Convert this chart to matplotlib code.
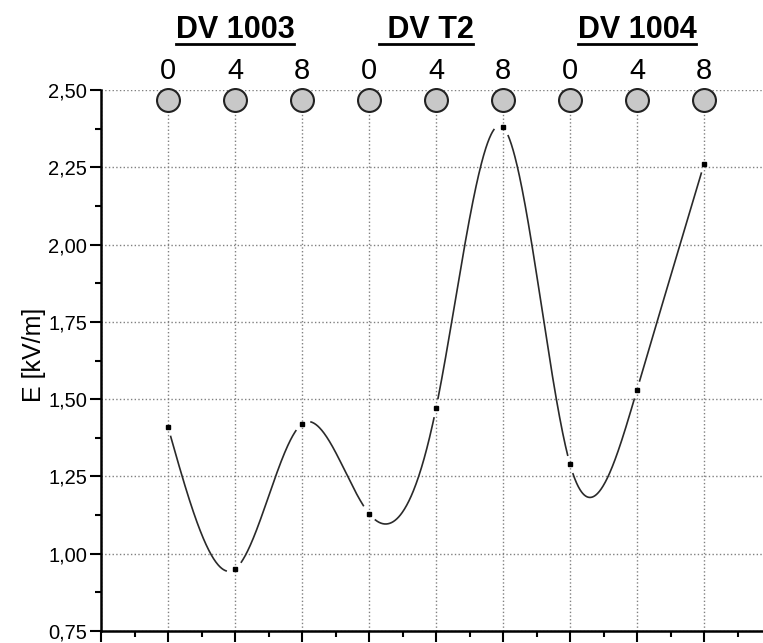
import matplotlib
matplotlib.use("Agg")
import matplotlib.pyplot as plt
import numpy as np
from matplotlib.ticker import MultipleLocator, FuncFormatter
from matplotlib.lines import Line2D

plt.rcParams['font.family'] = ['Liberation Sans', 'DejaVu Sans']

# data
positions = np.arange(1, 10)
hours = ['0', '4', '8', '0', '4', '8', '0', '4', '8']
groups = ['DV 1003', ' DV T2', 'DV 1004']
group_centers = [2, 4.85, 8]
field = np.array([1.41, 0.95, 1.42, 1.13, 1.47, 2.38, 1.29, 1.53, 2.26])


def natural_spline(x, y, xs):
    # plain natural cubic spline, no scipy needed
    n = len(x)
    h = np.diff(x)
    A = np.zeros((n, n))
    b = np.zeros(n)
    A[0, 0] = A[-1, -1] = 1
    for i in range(1, n - 1):
        A[i, i - 1] = h[i - 1]
        A[i, i] = 2 * (h[i - 1] + h[i])
        A[i, i + 1] = h[i]
        b[i] = 3 * ((y[i + 1] - y[i]) / h[i] - (y[i] - y[i - 1]) / h[i - 1])
    c = np.linalg.solve(A, b)
    bc = (y[1:] - y[:-1]) / h - h * (2 * c[:-1] + c[1:]) / 3
    d = (c[1:] - c[:-1]) / (3 * h)
    idx = np.clip(np.searchsorted(x, xs) - 1, 0, n - 2)
    t = xs - x[idx]
    return y[idx] + bc[idx] * t + c[idx] * t ** 2 + d[idx] * t ** 3


fig = plt.figure(figsize=(7.63, 6.43), dpi=100)
ax = fig.add_axes([101 / 763, 12 / 643, 662 / 763, 541 / 643])
ax.set_xlim(0, 662 / 67)
ax.set_ylim(0.75, 2.5)

# spline curve with a gap around each symbol (like Origin does)
xs = np.linspace(1, 9, 1200)
ys = natural_spline(positions.astype(float), field, xs)
pts = ax.transData.transform(np.column_stack([xs, ys]))
dots = ax.transData.transform(np.column_stack([positions, field]))
dist = np.min(np.hypot(pts[:, None, 0] - dots[None, :, 0],
                       pts[:, None, 1] - dots[None, :, 1]), axis=1)
ys_gap = np.where(dist < 9, np.nan, ys)
ax.plot(xs, ys_gap, color='#2a2a2a', lw=1.2)
ax.plot(positions, field, 's', ms=3, color='black')

# axes styling
for s in ['top', 'right']:
    ax.spines[s].set_visible(False)
for s in ['left', 'bottom']:
    ax.spines[s].set_linewidth(1.8)
ax.xaxis.set_major_locator(MultipleLocator(1))
ax.xaxis.set_minor_locator(MultipleLocator(0.5))
ax.yaxis.set_major_locator(MultipleLocator(0.25))
ax.yaxis.set_minor_locator(MultipleLocator(0.125))
ax.yaxis.set_major_formatter(FuncFormatter(lambda v, p: f"{v:.2f}".replace('.', ',')))
ax.tick_params(which='major', direction='out', length=8, width=1.5, labelsize=14.5, pad=2)
ax.tick_params(which='minor', direction='out', length=4, width=1.5)
ax.tick_params(axis='x', labelbottom=False)
ax.grid(True, which='major', linestyle=':', color='#808080', linewidth=1)
ax.set_ylabel('E [kV/m]', fontsize=18)
ax.yaxis.set_label_coords(-0.083, 0.51)

# top annotations: hours, circles, group titles
xt = ax.get_xaxis_transform()
ax.plot(positions, np.full(9, 0.9815), 'o', transform=xt, ms=16.5,
        mfc='#c8c8c8', mec='#222222', mew=1.5, ls='none', clip_on=False)
for p, h in zip(positions, hours):
    ax.text(p, 1.035, h, transform=xt, ha='center', va='center', fontsize=21)

renderer = fig.canvas.get_renderer()
for c, g in zip(group_centers, groups):
    t = ax.text(c, 1.111, g, transform=xt, ha='center', va='center',
                fontsize=22, fontweight='bold')
    bb = t.get_window_extent(renderer)
    (x0, y0), (x1, _) = fig.transFigure.inverted().transform([[bb.x0, bb.y0 + 1], [bb.x1, bb.y0]])
    fig.add_artist(Line2D([x0, x1], [y0, y0], transform=fig.transFigure,
                          color='black', lw=2))

fig.savefig('out.png', dpi=100)
